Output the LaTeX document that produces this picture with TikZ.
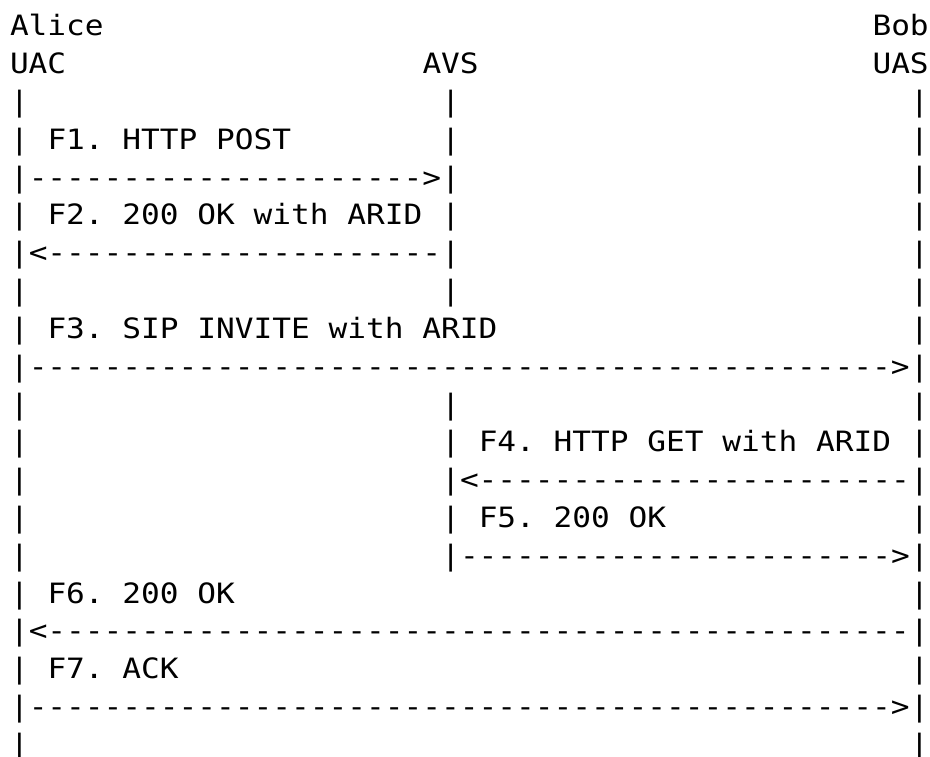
\documentclass[tikz,border=0pt]{standalone}
\usepackage{fontspec}
\setmonofont[FakeStretch=1.112]{DejaVu Sans Mono}
\ExplSyntaxOn
\cs_new:Npn \dashrun #1 { \prg_replicate:nn {#1} {-} }
\ExplSyntaxOff
% column / row grid of the monospaced art
\newcommand\colx[1]{10+#1*18.75}
\newcommand\rowy[1]{36+#1*37.8}
\begin{document}
\begin{tikzpicture}[x=1pt,y=-1pt,
  txt/.style={anchor=base west, inner sep=0pt, outer sep=0pt,
    font=\ttfamily\fontsize{28}{37.8}\selectfont}]
\fill[white] (0,0) rectangle (930,757);
\useasboundingbox (0,0) rectangle (930,757);

% participants
\node[txt] (alice) at ({\colx{0}},{\rowy{0}}) {Alice};
\node[txt] (bob)   at ({\colx{46}},{\rowy{0}}) {Bob};
\node[txt] (uac)   at ({\colx{0}},{\rowy{1}}) {UAC};
\node[txt] (avs)   at ({\colx{22}},{\rowy{1}}) {AVS};
\node[txt] (uas)   at ({\colx{46}},{\rowy{1}}) {UAS};

% lifelines
\foreach \r in {2,...,19} {
  \node[txt] (uacbar\r) at ({\colx{0}},{\rowy{\r}}) {|};
  \node[txt] (uasbar\r) at ({\colx{48}},{\rowy{\r}}) {|};
}
\foreach \r in {2,3,4,5,6,7,10,11,12,13,14} {
  \node[txt] (avsbar\r) at ({\colx{23}},{\rowy{\r}}) {|};
}

% F1 / F2 : UAC <-> AVS
\node[txt] (f1)  at ({\colx{2}},{\rowy{3}}) {F1. HTTP POST};
\node[txt] (f1a) at ({\colx{1}},{\rowy{4}}) {\dashrun{21}>};
\node[txt] (f2)  at ({\colx{2}},{\rowy{5}}) {F2. 200 OK with ARID};
\node[txt] (f2a) at ({\colx{1}},{\rowy{6}}) {<\dashrun{21}};

% F3 : UAC -> UAS
\node[txt] (f3)  at ({\colx{2}},{\rowy{8}}) {F3. SIP INVITE with ARID};
\node[txt] (f3a) at ({\colx{1}},{\rowy{9}}) {\dashrun{46}>};

% F4 / F5 : UAS <-> AVS
\node[txt] (f4)  at ({\colx{25}},{\rowy{11}}) {F4. HTTP GET with ARID};
\node[txt] (f4a) at ({\colx{24}},{\rowy{12}}) {<\dashrun{23}};
\node[txt] (f5)  at ({\colx{25}},{\rowy{13}}) {F5. 200 OK};
\node[txt] (f5a) at ({\colx{24}},{\rowy{14}}) {\dashrun{23}>};

% F6 / F7 : UAS <-> UAC
\node[txt] (f6)  at ({\colx{2}},{\rowy{15}}) {F6. 200 OK};
\node[txt] (f6a) at ({\colx{1}},{\rowy{16}}) {<\dashrun{46}};
\node[txt] (f7)  at ({\colx{2}},{\rowy{17}}) {F7. ACK};
\node[txt] (f7a) at ({\colx{1}},{\rowy{18}}) {\dashrun{46}>};
\end{tikzpicture}
\end{document}
